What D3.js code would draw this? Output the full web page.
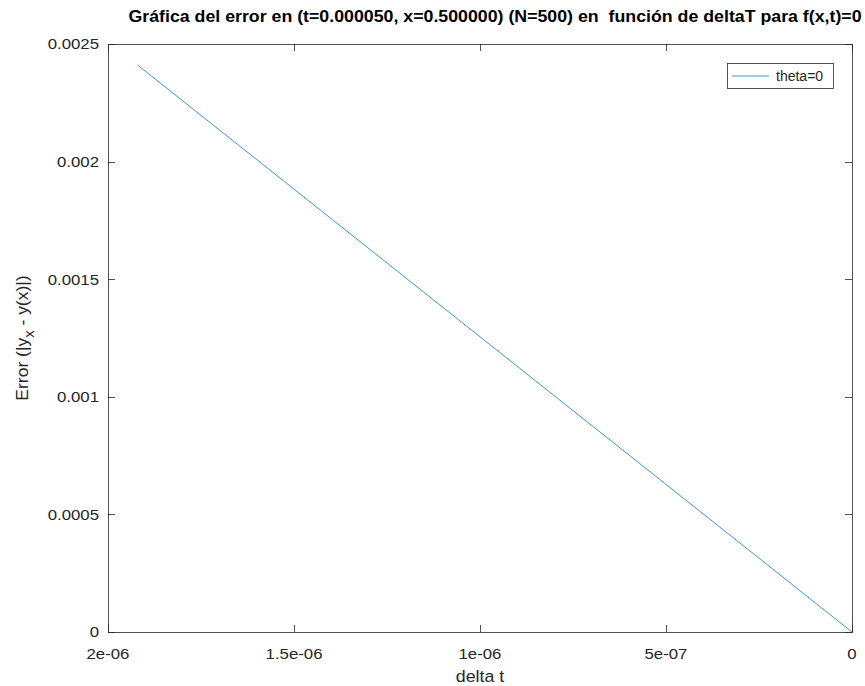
<!DOCTYPE html>
<html><head><meta charset="utf-8">
<script src="https://cdn.jsdelivr.net/npm/d3@7"></script>
<style>body{margin:0;background:#fff}svg{display:block;font-family:"Liberation Sans",Arial,sans-serif}</style>
</head><body>
<script>
const deltaT = [1.92e-6, 0];
const errorVals = [0.00241, 0];
const xTicks = [2e-6, 1.5e-6, 1e-6, 5e-7, 0];
const xTickLabels = ["2e-06", "1.5e-06", "1e-06", "5e-07", "0"];
const yTicks = [0, 0.0005, 0.001, 0.0015, 0.002, 0.0025];
const yTickLabels = ["0", "0.0005", "0.001", "0.0015", "0.002", "0.0025"];
const seriesName = "theta=0";

const W = 865, H = 686;
const L = 108, R = 852, T = 44, B = 632;
const svg = d3.select("body").append("svg").attr("width", W).attr("height", H);
const x = d3.scaleLinear().domain([2e-6, 0]).range([L, R]);
const y = d3.scaleLinear().domain([0, 0.0025]).range([B, T]);
const axisCol = "#262626";
const lineCol = "#3d93d6";

function label(px, py, str, opts) {
  const g = svg.append("g").attr("transform", `translate(${px},${py})${opts.rot ? " rotate(" + opts.rot + ")" : ""} scale(${opts.sx || 1},1)`);
  const t = g.append("text").attr("x", 0).attr("y", 0)
    .attr("text-anchor", opts.anchor || "start")
    .attr("font-size", opts.size).attr("fill", opts.fill || axisCol)
    .attr("font-weight", opts.weight || "normal");
  if (str !== null) t.text(str);
  return t;
}

// box
svg.append("rect").attr("x", L).attr("y", T).attr("width", R - L).attr("height", B - T)
  .attr("fill", "#fff").attr("stroke", axisCol).attr("stroke-width", 0.8).attr("shape-rendering","crispEdges");

const xa = svg.append("g").attr("transform", `translate(0,${B})`)
  .call(d3.axisBottom(x).tickValues(xTicks).tickSize(-7).tickFormat(""));
const xt = svg.append("g").attr("transform", `translate(0,${T})`)
  .call(d3.axisTop(x).tickValues(xTicks).tickSize(-7).tickFormat(""));
const ya = svg.append("g").attr("transform", `translate(${L},0)`)
  .call(d3.axisLeft(y).tickValues(yTicks).tickSize(-7).tickFormat(""));
const yr = svg.append("g").attr("transform", `translate(${R},0)`)
  .call(d3.axisRight(y).tickValues(yTicks).tickSize(-7).tickFormat(""));
[xa, xt, ya, yr].forEach(g => {
  g.select(".domain").remove();
  g.selectAll("line").attr("stroke", axisCol).attr("stroke-width", 0.8).attr("shape-rendering","crispEdges");
});

// tick labels
xTicks.forEach((v, i) => label(x(v), 658.5, xTickLabels[i], {size: 15, anchor: "middle", sx: 1.12}));
yTicks.forEach((v, i) => label(99, y(v) + 5.3, yTickLabels[i], {size: 15, anchor: "end", sx: 1.12}));

// line
const line = d3.line().x((d,i)=>x(deltaT[i])).y((d,i)=>y(errorVals[i]));
svg.append("path").datum(deltaT).attr("d", line).attr("fill","none")
  .attr("stroke", lineCol).attr("stroke-width", 1);

// title
label(495, 22, "Gráfica del error en (t=0.000050, x=0.500000) (N=500) en\u00a0 función de deltaT para f(x,t)=0",
  {size: 17, anchor: "middle", weight: "bold", fill: "#000", sx: 1.045});

// x label
label((L + R) / 2, 682, "delta t", {size: 16.5, anchor: "middle", sx: 1.08});

// y label
const yl = label(28, 338, null, {size: 16.5, anchor: "middle", rot: -90, sx: 1.06});
yl.append("tspan").text("Error (|y");
yl.append("tspan").attr("font-size", 14).attr("dy", 6).text("x");
yl.append("tspan").attr("dy", -6).text(" - y(x)|)");

// legend
const lg = svg.append("g");
lg.append("rect").attr("x", 727.5).attr("y", 63.5).attr("width", 106).attr("height", 25)
  .attr("fill","#fff").attr("stroke", axisCol).attr("stroke-width", 0.8);
lg.append("line").attr("x1", 732).attr("x2", 769).attr("y1", 76).attr("y2", 76)
  .attr("stroke", lineCol).attr("stroke-width", 1);
label(776, 80.7, seriesName, {size: 14, anchor: "start"});
</script>
</body></html>
